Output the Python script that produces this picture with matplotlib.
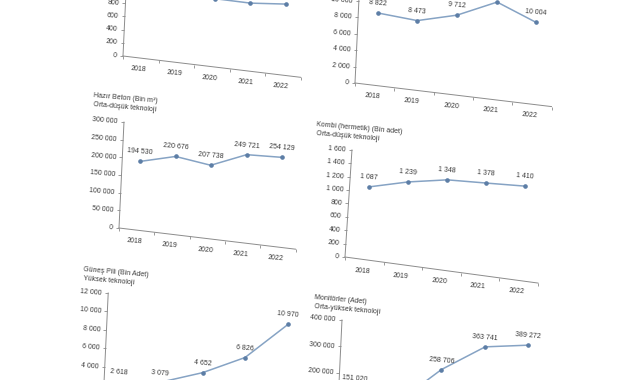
import matplotlib
matplotlib.use("Agg")
import matplotlib.pyplot as plt
from matplotlib.transforms import Affine2D

# Fotograftaki sayfa hafif egik; narrow yazi tipi
plt.rcParams['font.family'] = ['Liberation Sans Narrow', 'Liberation Sans', 'DejaVu Sans']

# Veriler
years = [2018, 2019, 2020, 2021, 2022]
year_labels = ['2018', '2019', '2020', '2021', '2022']

# ust sol (basligi kadraj disinda)
a_vals = [1120, 1150, 1030, 1027, 1077]
a_ticks = [0, 200, 400, 600, 800]

# ust sag (basligi kadraj disinda)
b_vals = [8822, 8473, 9712, 11880, 10004]
b_ticks = [0, 2000, 4000, 6000, 8000, 10000]

c_title = ['Hazır Beton (Bin m³)', 'Orta-düşük teknoloji']
c_vals = [194530, 220676, 207738, 249721, 254129]
c_ticks = [0, 50000, 100000, 150000, 200000, 250000, 300000]

d_title = ['Kombi (hermetik) (Bin adet)', 'Orta-düşük teknoloji']
d_vals = [1087, 1239, 1348, 1378, 1410]
d_ticks = [0, 200, 400, 600, 800, 1000, 1200, 1400, 1600]

e_title = ['Güneş Pili (Bin Adet)', 'Yüksek teknoloji']
e_vals = [2618, 3079, 4652, 6826, 10970]
e_ticks = [0, 2000, 4000, 6000, 8000, 10000, 12000]

f_title = ['Monitörler (Adet)', 'Orta-yüksek teknoloji']
f_vals = [151020, 115000, 258706, 363741, 389272]
f_ticks = [0, 100000, 200000, 300000, 400000]

W, H = 641, 380
TXT = '#383838'
AXC = '#8c8c8c'
LINE = '#86a3c4'
MARK = '#5d7ea6'
FS = 5.0
ROT = -5


def fmt(v):
    return f"{v:,}".replace(",", " ")


fig = plt.figure(figsize=(W / 100, H / 100), dpi=100)
fig.patch.set_facecolor('white')


def chart(vals, ticks, top, ox, oy, dx, sy, first, slope, tilt, title=None, tpos=None):
    # ox, oy: eksen baslangici (piksel, ustten); dx: yil araligi; sy: birim basina piksel
    ax = fig.add_axes([ox / W, 1 - oy / H, 5 * dx / W, top * sy / H])
    ax.set_xlim(years[0] - first, years[0] - first + 5)
    ax.set_ylim(0, top)
    ax.axis('off')
    X0, Y0 = ox, H - oy
    skew = Affine2D.from_values(1, -slope, tilt, 1, -tilt * Y0, slope * X0)
    T = ax.transData + skew
    x0, x1 = ax.get_xlim()

    ax.plot([x0, x1], [0, 0], color=AXC, lw=0.7, transform=T, clip_on=False)
    ax.plot([x0, x0], [0, top], color=AXC, lw=0.7, transform=T, clip_on=False)
    ax.plot([x0] * len(ticks), ticks, ls='none', marker=0, ms=2.5, mew=0.6,
            color=AXC, transform=T, clip_on=False)
    bounds = [y - 0.5 for y in years] + [years[-1] + 0.5]
    ax.plot(bounds, [0] * len(bounds), ls='none', marker=3, ms=2.5, mew=0.6,
            color=AXC, transform=T, clip_on=False)

    for v in ticks:
        ax.annotate(fmt(v), (x0, v), xycoords=T, xytext=(-4.5, 0),
                    textcoords='offset points', ha='right', va='center',
                    fontsize=FS, color=TXT, rotation=ROT, rotation_mode='anchor')
    for yr, lb in zip(years, year_labels):
        ax.annotate(lb, (yr, 0), xycoords=T, xytext=(-1.5, -8),
                    textcoords='offset points', ha='center', va='center',
                    fontsize=FS, color=TXT, rotation=ROT, rotation_mode='anchor')

    ax.plot(years, vals, color=LINE, lw=1.1, marker='o', ms=2.3, mfc=MARK,
            mec=MARK, transform=T, clip_on=False)
    for yr, v in zip(years, vals):
        ax.annotate(fmt(v), (yr, v), xycoords=T, xytext=(0, 6.8),
                    textcoords='offset points', ha='center', va='center',
                    fontsize=FS, color=TXT, rotation=ROT, rotation_mode='anchor')

    if title:
        tx, ty = tpos
        fig.text(tx / W, 1 - ty / H, title[0], fontsize=FS, color=TXT,
                 ha='left', va='center', rotation=ROT, rotation_mode='anchor')
        fig.text(tx / W, 1 - (ty + 9) / H, title[1], fontsize=FS, color=TXT,
                 ha='left', va='center', rotation=ROT, rotation_mode='anchor')
    return ax


chart(a_vals, a_ticks, 1200, 123, 56, 35.5, 0.066, 0.5, 0.12, 0.047)
chart(b_vals, b_ticks, 12000, 355, 83, 39.3, 0.0082, 0.5, 0.12, 0.047)
chart(c_vals, c_ticks, 300000, 119, 228, 35.3, 0.000353, 0.5, 0.12, 0.047, c_title, (93, 96))
chart(d_vals, d_ticks, 1600, 345, 257, 38.6, 0.0669, 0.5, 0.135, 0.065, d_title, (316, 125))
chart(e_vals, e_ticks, 12000, 103, 404, 41.5, 0.00925, 0.35, 0.12, 0.047, e_title, (83, 270))
chart(f_vals, f_ticks, 400000, 337, 426, 42.5, 0.000265, 0.38, 0.12, 0.047, f_title, (314, 298))

fig.savefig('out.png', dpi=100)
